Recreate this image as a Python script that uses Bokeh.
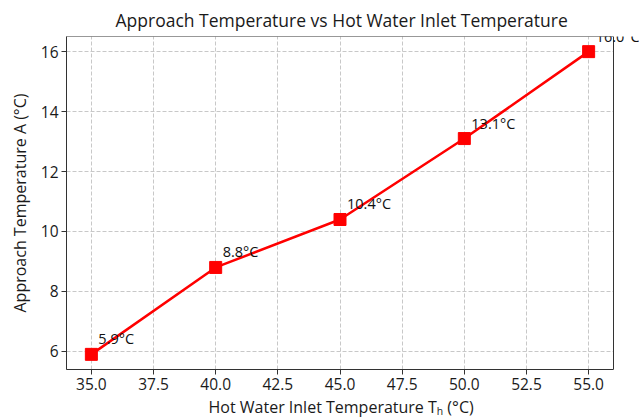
from bokeh.plotting import figure
from bokeh.models import ColumnDataSource, FixedTicker, Label, Range1d, BoxAnnotation, Title
from bokeh.embed import file_html
from bokeh.resources import INLINE

inlet_temp = [35, 40, 45, 50, 55]
approach_temp = [5.9, 8.8, 10.4, 13.1, 16.0]
point_labels = ["5.9°C", "8.8°C", "10.4°C", "13.1°C", "16.0°C"]
x_ticks = [35.0, 37.5, 40.0, 42.5, 45.0, 47.5, 50.0, 52.5, 55.0]
x_tick_labels = ["35.0", "37.5", "40.0", "42.5", "45.0", "47.5", "50.0", "52.5", "55.0"]
y_ticks = [6, 8, 10, 12, 14, 16]

FONT = "Open Sans"
TXT = "#1a1a1a"

# axes limits (matplotlib-like 5% margins)
x0, x1 = 34.0, 56.0
y0, y1 = 5.395, 16.505

W, H = 639, 419
BL, BT, BB = 66, 35, 50
BOX_W = 547  # pixel width of the axes box
# frame extends to the right edge so that the last label is not clipped
x_end = x0 + (W - BL) * (x1 - x0) / BOX_W

src = ColumnDataSource(dict(x=inlet_temp, y=approach_temp))

p = figure(width=W, height=H, output_backend="svg", toolbar_location=None,
           x_range=Range1d(x0, x_end), y_range=Range1d(y0, y1),
           min_border_left=BL, min_border_right=0, min_border_top=BT, min_border_bottom=BB)

p.title.text = "Approach Temperature vs Hot Water Inlet Temperature"
p.title.align = "left"
p.title.offset = 49  # centres the title over the axes box
p.title.text_font = FONT
p.title.text_font_size = "17.5px"
p.title.text_font_style = "normal"
p.title.text_color = TXT

p.line("x", "y", source=src, line_color="red", line_width=2.5)
p.scatter("x", "y", source=src, marker="square", size=12, color="red")

# white mask right of the axes box, then the box itself
p.add_layout(BoxAnnotation(left=x1, fill_color="white", fill_alpha=1.0, line_color=None,
                           level="annotation"))
p.add_layout(BoxAnnotation(left=x0, right=x1, bottom=y0, top=y1, fill_color=None,
                           fill_alpha=0, line_color="#333333", line_width=1, line_alpha=1.0,
                           level="annotation"))

for xv, yv, lab in zip(inlet_temp, approach_temp, point_labels):
    p.add_layout(Label(x=xv, y=yv, text=lab, x_offset=7, y_offset=6, level="overlay",
                       text_font=FONT, text_font_size="14.5px", text_color="#111111",
                       text_baseline="bottom", text_align="left"))

p.xaxis.ticker = FixedTicker(ticks=x_ticks)
p.xaxis.major_label_overrides = {t: l for t, l in zip(x_ticks, x_tick_labels)}
p.xaxis.bounds = (x0, x1)
p.yaxis.ticker = FixedTicker(ticks=y_ticks)

p.yaxis.axis_label = "Approach Temperature A (°C)"

# x-axis label as a bottom title, centred under the axes box
xlabel = Title(text="Hot Water Inlet Temperature Tₕ (°C)", align="left", offset=142,
               standoff=2, text_font=FONT, text_font_size="16px", text_font_style="normal",
               text_color=TXT)
p.add_layout(xlabel, "below")

for ax in (p.xaxis[0], p.yaxis[0]):
    ax.axis_label_text_font = FONT
    ax.axis_label_text_font_size = "16px"
    ax.axis_label_text_font_style = "normal"
    ax.axis_label_text_color = TXT
    ax.major_label_text_font = FONT
    ax.major_label_text_font_size = "15.5px"
    ax.major_label_text_color = TXT
    ax.axis_line_color = "#333333"
    ax.major_tick_line_color = "#333333"
    ax.major_tick_out = 5
    ax.major_tick_in = 0
    ax.minor_tick_line_color = None
    ax.major_label_standoff = 3

p.yaxis.axis_label_standoff = 7

p.outline_line_color = None

for g in (p.xgrid[0], p.ygrid[0]):
    g.grid_line_color = "#c8c8c8"
    g.grid_line_dash = "4 2"
    g.grid_line_width = 1

p.background_fill_color = "white"
p.border_fill_color = "white"

open("out.html", "w").write(file_html(p, INLINE))
